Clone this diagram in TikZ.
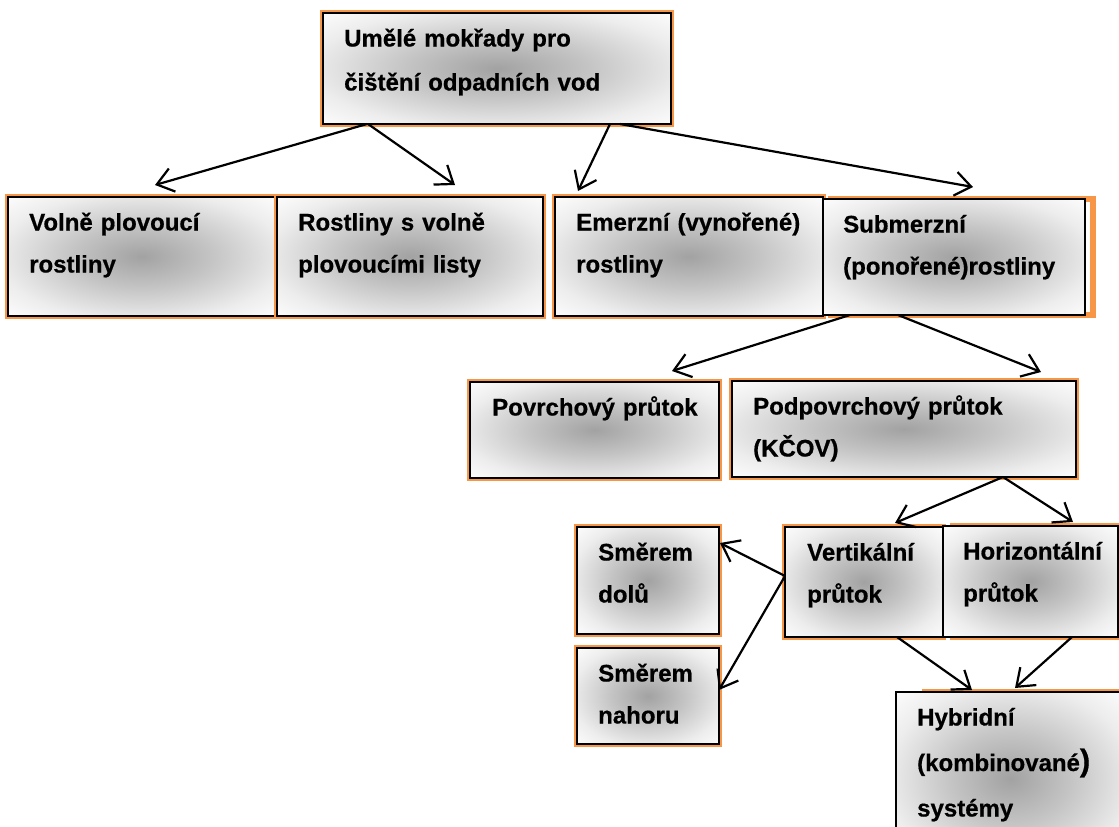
\documentclass[tikz,border=0pt]{standalone}
\usepackage{fontspec}
\setmainfont{Liberation Sans}[BoldFeatures={FakeBold=0.6}]
\usetikzlibrary{arrows.meta}
\definecolor{boxorange}{HTML}{F79646}
\definecolor{shadeA}{HTML}{A2A2A2}
\definecolor{shadeB}{HTML}{C4C4C4}
\definecolor{shadeC}{HTML}{EDEDED}
\pgfdeclareradialshading{boxshade}{\pgfpoint{0bp}{0bp}}{color(0bp)=(shadeA); color(13bp)=(shadeB); color(27bp)=(shadeC); color(37bp)=(white); color(50bp)=(white)}

\begin{document}
\begin{tikzpicture}[x=1pt,y=-1pt,
  box/.style={rectangle,draw=black,line width=1.4pt,inner sep=0pt,outer sep=0pt,
    shade,shading=boxshade,
    preaction={draw=boxorange,line width=6.5pt,transform canvas={xshift=#1}}},
  box/.default=0pt,
  boxtext/.style={anchor=base west,inner sep=0pt,text width=300pt,align=left,
    font=\fontsize{24}{42}\selectfont\bfseries},
  arr/.style={-{Straight Barb[length=16pt,width=24pt]},line width=2.2pt}]
\useasboundingbox (0,0) rectangle (1119,827);
\clip (0,0) rectangle (1119,827);
% boxes
\node[box,minimum width=348pt,minimum height=111pt] (umele) at (497,68.5) {};
\node[box,minimum width=267pt,minimum height=119pt] (volne) at (141.5,256.5) {};
\node[box,minimum width=266pt,minimum height=119pt] (rostl) at (410,256.5) {};
\node[box,minimum width=268pt,minimum height=119pt] (emerz) at (689,256.5) {};
\node[box=8pt,minimum width=262pt,minimum height=116pt] (subm) at (954,257) {};
\node[box,minimum width=249pt,minimum height=96pt] (povrch) at (594.5,430) {};
\node[box,minimum width=344pt,minimum height=96pt] (podp) at (904,429) {};
\node[box,minimum width=142pt,minimum height=107pt] (dolu) at (648,580.5) {};
\node[box,minimum width=158pt,minimum height=110pt] (vert) at (864,582) {};
\node[box=10pt,minimum width=175pt,minimum height=111pt] (horiz) at (1030.5,581.5) {};
\node[box,minimum width=142pt,minimum height=96pt] (nahoru) at (648,696) {};
\node[box=29pt,minimum width=229pt,minimum height=173pt] (hybr) at (1010.5,778.5) {};
% texts
\node[boxtext,font=\fontsize{24}{44}\selectfont\bfseries] (umele-t) at ([shift={(21,33.5)}]umele.north west) {Umělé mokřady pro\\čištění odpadních vod};
\node[boxtext] (volne-t) at ([shift={(21,33.5)}]volne.north west) {Volně plovoucí\\rostliny};
\node[boxtext] (rostl-t) at ([shift={(21,33.5)}]rostl.north west) {Rostliny s volně\\plovoucími listy};
\node[boxtext] (emerz-t) at ([shift={(21,33.5)}]emerz.north west) {Emerzní (vynořené)\\rostliny};
\node[boxtext] (subm-t) at ([shift={(20,33.5)}]subm.north west) {Submerzní\\(ponořené)rostliny};
\node[boxtext] (povrch-t) at ([shift={(22,33.5)}]povrch.north west) {Povrchový průtok};
\node[boxtext] (podp-t) at ([shift={(21,33.5)}]podp.north west) {Podpovrchový průtok\\(KČOV)};
\node[boxtext] (dolu-t) at ([shift={(21,33.5)}]dolu.north west) {Směrem\\dolů};
\node[boxtext] (vert-t) at ([shift={(22,33.5)}]vert.north west) {Vertikální\\průtok};
\node[boxtext] (horiz-t) at ([shift={(20,33.5)}]horiz.north west) {Horizontální\\průtok};
\node[boxtext] (nahoru-t) at ([shift={(21,33.5)}]nahoru.north west) {Směrem\\nahoru};
\node[boxtext,font=\fontsize{24}{45.5}\selectfont\bfseries] (hybr-t) at ([shift={(21,33.5)}]hybr.north west) {Hybridní\\(kombinované{\fontsize{31}{45}\selectfont)}\\systémy};
% arrows
\draw[arr] ([shift={(44,0)}]umele.south west) -- ([shift={(147,-12)}]volne.north west);
\draw[arr] ([shift={(45,0)}]umele.south west) -- ([shift={(178,-12)}]rostl.north west);
\draw[arr] ([shift={(287,0)}]umele.south west) -- ([shift={(23,-6)}]emerz.north west);
\draw[arr] ([shift={(297,0)}]umele.south west) -- ([shift={(150,-12)}]subm.north west);
\draw[arr] ([shift={(27,0)}]subm.south west) -- ([shift={(202,-11)}]povrch.north west);
\draw[arr] ([shift={(75,0)}]subm.south west) -- ([shift={(309,-9)}]podp.north west);
\draw[arr] ([shift={(271,0)}]podp.south west) -- ([shift={(110,-4)}]vert.north west);
\draw[arr] ([shift={(271,0)}]podp.south west) -- ([shift={(130,-4)}]horiz.north west);
\draw[arr] ([shift={(0,49)}]vert.north west) -- ([shift={(1,16)}]dolu.north east);
\draw[arr] ([shift={(0,49)}]vert.north west) -- ([shift={(0,42)}]nahoru.north east);
\draw[arr] ([shift={(112,0)}]vert.south west) -- ([shift={(76,-2)}]hybr.north west);
\draw[arr] ([shift={(129,0)}]horiz.south west) -- ([shift={(119,-4)}]hybr.north west);
\end{tikzpicture}
\end{document}
